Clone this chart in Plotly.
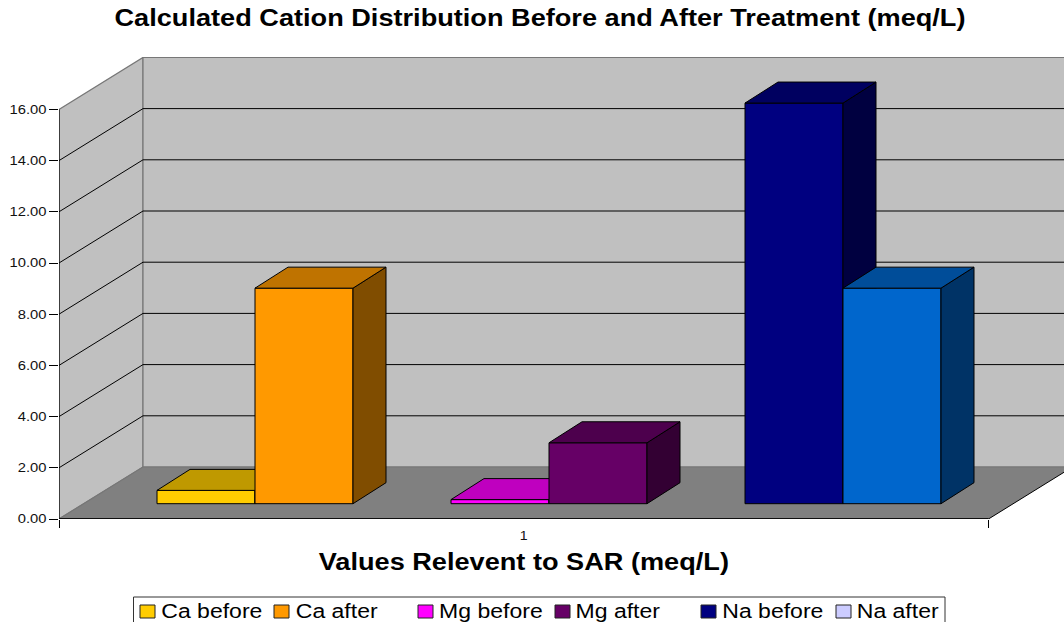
import plotly.graph_objects as go

# ---- data ----
series_names = ["Ca before", "Ca after", "Mg before", "Mg after", "Na before", "Na after"]
series_values = [0.52, 8.42, 0.16, 2.38, 15.65, 8.42]
category_labels = ["1"]
y_ticks = [0, 2, 4, 6, 8, 10, 12, 14, 16]
title_text = "Calculated Cation Distribution Before and After Treatment (meq/L)"
x_title = "Values Relevent to SAR (meq/L)"

front_colors = ["#FFCC00", "#FF9900", "#FF00FF", "#660066", "#000080", "#0066CC"]
top_colors = ["#BF9900", "#BF7300", "#BF00BF", "#4D004D", "#000060", "#004D99"]
side_colors = ["#806600", "#804D00", "#800080", "#330033", "#000040", "#003366"]
legend_colors = ["#FFCC00", "#FF9900", "#FF00FF", "#660066", "#000080", "#CCCCFF"]

# ---- plot geometry (pixels per axis unit) ----
W, H = 1064, 622
L, T, B = 59, 57, 103
X_PX = 929.5          # category slot width in px
Y_PX = 25.6           # px per y unit
plot_h = H - T - B
plot_w = W - L
x_max = plot_w / X_PX
y_max = plot_h / Y_PX

wall_dx, wall_dy = 84 / X_PX, 52 / Y_PX
bar_dx, bar_dy = 33 / X_PX, 21 / Y_PX
bar_base = 15.3 / Y_PX
bar_w = 98 / X_PX
group_starts = [98 / X_PX, 392 / X_PX, 686 / X_PX]

# legend layout in page pixels
legend_box = (133.5, 597, 945, 640)
swatch_left = [140, 274, 418, 555, 701, 836]
swatch_size = (15, 13)
swatch_top = 605
label_centers = [212, 336.5, 491, 618, 773, 897.5]
label_y = 611


def px_x(p):
    return (p - L) / plot_w


def px_y(p):
    return (H - B - p) / plot_h


FONT = "Liberation Sans, Arial, sans-serif"
fig = go.Figure()

# walls, floor and gridlines sit on the axes, under the bars
wall_line = dict(color="#777777", width=1.2)
top_val = y_ticks[-1]
shapes = [
    dict(type="path", xref="x", yref="y", layer="below",
         path=f"M0,0 L{wall_dx},{wall_dy} L{wall_dx},{top_val + wall_dy} L0,{top_val} Z",
         fillcolor="#C0C0C0", line=wall_line),
    dict(type="path", xref="x", yref="y", layer="below",
         path=f"M{wall_dx},{wall_dy} L{x_max + 1},{wall_dy} L{x_max + 1},{top_val + wall_dy} L{wall_dx},{top_val + wall_dy} Z",
         fillcolor="#C0C0C0", line=wall_line),
]
for v in y_ticks[1:-1]:
    shapes.append(dict(type="path", xref="x", yref="y", layer="below",
                       path=f"M0,{v} L{wall_dx},{v + wall_dy} L{x_max + 1},{v + wall_dy}",
                       line=dict(color="black", width=1)))
shapes += [
    dict(type="path", xref="x", yref="y", layer="below",
         path=f"M0,0 L{wall_dx},{wall_dy} L{1 + wall_dx},{wall_dy} L1,0 Z",
         fillcolor="#808080", line=dict(width=0)),
    dict(type="path", xref="x", yref="y", layer="below",
         path=f"M0,0 L{wall_dx},{wall_dy} L{1 + wall_dx},{wall_dy}",
         line=wall_line),
    dict(type="path", xref="x", yref="y", layer="below",
         path=f"M0,0 L1,0 L{1 + wall_dx},{wall_dy}",
         line=dict(color="black", width=1)),
    dict(type="line", xref="x", yref="y", x0=0, x1=0, y0=0, y1=top_val, layer="below",
         line=dict(color="black", width=1.2)),
    dict(type="line", xref="x", yref="y", x0=0, x1=1, y0=0, y1=0, layer="below",
         line=dict(color="black", width=1.4)),
]

# legend frame and swatches
shapes.append(dict(type="rect", xref="paper", yref="paper", layer="above",
                   x0=px_x(legend_box[0]), x1=px_x(legend_box[2]),
                   y0=px_y(legend_box[3]), y1=px_y(legend_box[1]),
                   fillcolor="white", line=dict(color="#333333", width=1)))
annotations = [dict(text=f"<b>{x_title}</b>", xref="paper", yref="paper",
                    x=px_x(524), y=px_y(562), xanchor="center", yanchor="middle", showarrow=False,
                    font=dict(size=23, family=FONT, color="black"))]
for i, name in enumerate(series_names):
    shapes.append(dict(type="rect", xref="paper", yref="paper", layer="above",
                       x0=px_x(swatch_left[i]), x1=px_x(swatch_left[i] + swatch_size[0]),
                       y0=px_y(swatch_top + swatch_size[1]), y1=px_y(swatch_top),
                       fillcolor=legend_colors[i], line=dict(color="#222222", width=1)))
    annotations.append(dict(text=name, xref="paper", yref="paper",
                            x=px_x(label_centers[i]), y=px_y(label_y),
                            xanchor="center", yanchor="middle", showarrow=False,
                            font=dict(size=19.5, family=FONT, color="black")))

for i, (name, val) in enumerate(zip(series_names, series_values)):
    x0 = group_starts[i // 2] + (i % 2) * bar_w
    x1 = x0 + bar_w
    suffix = "" if i % 2 == 0 else "2"
    xa, ya = "x" + suffix, "y" + suffix
    top = bar_base + val
    outline = dict(color="black", width=1)
    # front face: a real bar
    fig.add_trace(go.Bar(x=[(x0 + x1) / 2], y=[val], base=bar_base, width=bar_w,
                         name=name, marker=dict(color=front_colors[i], line=outline),
                         xaxis=xa, yaxis=ya, showlegend=False, hoverinfo="name+y"))
    # receding side and top
    fig.add_trace(go.Scatter(x=[x1, x1 + bar_dx, x1 + bar_dx, x1, x1],
                             y=[bar_base, bar_base + bar_dy, top + bar_dy, top, bar_base],
                             mode="lines", fill="toself", fillcolor=side_colors[i], line=outline,
                             xaxis=xa, yaxis=ya, showlegend=False, hoverinfo="skip"))
    fig.add_trace(go.Scatter(x=[x0, x1, x1 + bar_dx, x0 + bar_dx, x0],
                             y=[top, top, top + bar_dy, top + bar_dy, top],
                             mode="lines", fill="toself", fillcolor=top_colors[i], line=outline,
                             xaxis=xa, yaxis=ya, showlegend=False, hoverinfo="skip"))

fig.update_layout(
    width=W, height=H, autosize=False,
    margin=dict(l=L, r=0, t=T, b=B, pad=0, autoexpand=False),
    paper_bgcolor="white", plot_bgcolor="white",
    barmode="overlay", showlegend=False,
    font=dict(family=FONT, color="black"),
    title=dict(text=f"<b>{title_text}</b>", x=540 / W, xanchor="center", y=1 - 18 / H, yanchor="middle",
               font=dict(size=23, family=FONT, color="black")),
    shapes=shapes, annotations=annotations,
    xaxis=dict(range=[0, x_max], tickmode="array", tickvals=[0.5], ticktext=category_labels,
               ticks="outside", ticklen=6, tickcolor="rgba(0,0,0,0)", tickfont=dict(size=12, color="#111111"),
               minor=dict(tickmode="array", tickvals=[0, 1], ticks="outside", ticklen=8, tickcolor="black", tickwidth=1),
               showgrid=False, zeroline=False, showline=False, fixedrange=True),
    yaxis=dict(range=[0, y_max], tickmode="array", tickvals=y_ticks, tickformat=".2f",
               ticks="outside", ticklen=9, tickcolor="black", tickwidth=1,
               tickfont=dict(size=12.5, color="#111111"), showgrid=False, zeroline=False,
               showline=False, fixedrange=True),
    xaxis2=dict(range=[0, x_max], overlaying="x", visible=False, fixedrange=True),
    yaxis2=dict(range=[0, y_max], overlaying="y", visible=False, fixedrange=True),
)

# the reference's text is stretched sideways: widen every label by the same factor
widen = """
document.body.style.margin='0';
document.querySelectorAll('svg text').forEach(function(t){
  var w=t.getComputedTextLength();
  if(w>0){t.setAttribute('textLength',w*1.18);t.setAttribute('lengthAdjust','spacingAndGlyphs');}
});
"""
fig.write_html("out.html", post_script=widen, config={"displayModeBar": False})
